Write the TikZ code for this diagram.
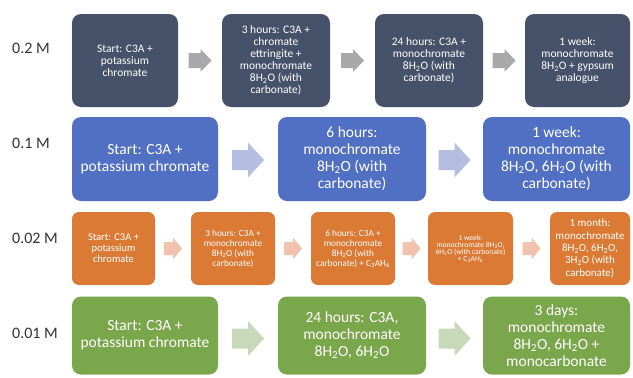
\documentclass[tikz,border=0pt]{standalone}
\usepackage{fontspec}
\setmainfont{Carlito}
\usetikzlibrary{calc}
\definecolor{cdark}{HTML}{46526A}
\definecolor{cblue}{HTML}{5170C4}
\definecolor{corange}{HTML}{DA7A35}
\definecolor{cgreen}{HTML}{7AA64C}
\definecolor{agray}{HTML}{A9A9AB}
\definecolor{ablue}{HTML}{B3BEE0}
\definecolor{aorange}{HTML}{F1C3AE}
\definecolor{agreen}{HTML}{C7D9B9}
\definecolor{labcol}{HTML}{333333}
\newcommand\subs[1]{\textsubscript{#1}}
\newcommand\blockarr[6]{%
  \fill[#6] (#1) ++({-#2/2},{-#4/2}) -- ++({#2-#5},0) -- ++(0,{-(#3-#4)/2})
    -- ++(#5,{#3/2}) -- ++({-#5},{#3/2}) -- ++(0,{-(#3-#4)/2}) -- ++({-(#2-#5)},0) -- cycle;}
\tikzset{
  box/.style={rectangle, rounded corners=9pt, inner sep=1pt, align=center, text=white},
  rowA/.style={box, fill=cdark, minimum height=93pt, font=\fontsize{11.5}{12}\selectfont},
  rowB/.style={box, fill=cblue, minimum height=84pt, font=\fontsize{15.5}{17}\selectfont},
  rowC/.style={box, fill=corange, rounded corners=7pt, minimum height=73pt},
  rowD/.style={box, fill=cgreen, minimum height=78pt, font=\fontsize{15.5}{17}\selectfont},
  lab/.style={anchor=west, inner sep=0pt, text=labcol, font=\fontsize{16}{18}\selectfont}
}
\begin{document}
\begin{tikzpicture}[x=1pt,y=-1pt]
\fill[white] (0,0) rectangle (633,378);
\useasboundingbox (0,0) rectangle (633,378);

% labels
\node[lab] (l1) at (12,48) {0.2 M};
\node[lab] (l2) at (12,143) {0.1 M};
\node[lab] (l3) at (12,238) {0.02 M};
\node[lab] (l4) at (12,333) {0.01 M};

% row 1
\node[rowA, minimum width=106pt] (r1a) at (125,60.5) {Start: C3A +\\potassium\\chromate};
\node[rowA, minimum width=108pt] (r1b) at (276,60.5) {3 hours: C3A +\\chromate\\ettringite +\\monochromate\\8H\subs{2}O (with\\carbonate)};
\node[rowA, minimum width=108pt] (r1c) at (429,60.5) {24 hours: C3A +\\monochromate\\8H\subs{2}O (with\\carbonate)};
\node[rowA, minimum width=105pt] (r1d) at (577.5,60.5) {1 week:\\monochromate\\8H\subs{2}O + gypsum\\analogue};

% row 2
\node[rowB, minimum width=146pt] (r2a) at (145,159) {Start: C3A +\\potassium chromate};
\node[rowB, minimum width=148pt] (r2b) at (352,159) {6 hours:\\monochromate\\8H\subs{2}O (with\\carbonate)};
\node[rowB, minimum width=147pt] (r2c) at (556.5,159) {1 week:\\monochromate\\8H\subs{2}O, 6H\subs{2}O (with\\carbonate)};

% row 3
\node[rowC, minimum width=83pt, font=\fontsize{10.5}{11}\selectfont] (r3a) at (113.5,248.5) {Start: C3A +\\potassium\\chromate};
\node[rowC, minimum width=84pt, font=\fontsize{9.3}{10}\selectfont] (r3b) at (233,248.5) {3 hours: C3A +\\monochromate\\8H\subs{2}O (with\\carbonate)};
\node[rowC, minimum width=84pt, font=\fontsize{9.3}{10}\selectfont] (r3c) at (353,248.5) {6 hours: C3A +\\monochromate\\8H\subs{2}O (with\\carbonate) + C\subs{3}AH\subs{6}};
\node[rowC, minimum width=85pt, font=\fontsize{7.6}{7}\selectfont] (r3d) at (470.5,248.5) {1 week:\\monochromate 8H\subs{2}O,\\6H\subs{2}O (with carbonate)\\+ C\subs{3}AH\subs{6}};
\node[rowC, minimum width=80pt, font=\fontsize{11}{12.3}\selectfont] (r3e) at (590,248.5) {1 month:\\monochromate\\8H\subs{2}O, 6H\subs{2}O,\\3H\subs{2}O (with\\carbonate)};

% row 4
\node[rowD, minimum width=146pt] (r4a) at (145,335.5) {Start: C3A +\\potassium chromate};
\node[rowD, minimum width=148pt] (r4b) at (352,335.5) {24 hours: C3A,\\monochromate\\8H\subs{2}O, 6H\subs{2}O};
\node[rowD, minimum width=147pt] (r4c) at (556.5,335.5) {3 days:\\monochromate\\8H\subs{2}O, 6H\subs{2}O +\\monocarbonate};

% arrow anchor points
\coordinate (a1x) at ($(r1a.east)!0.5!(r1b.west)$);
\coordinate (a1y) at ($(r1b.east)!0.5!(r1c.west)$);
\coordinate (a1z) at ($(r1c.east)!0.5!(r1d.west)$);
\coordinate (a2x) at ($(r2a.east)!0.5!(r2b.west)+(0,1)$);
\coordinate (a2y) at ($(r2b.east)!0.5!(r2c.west)+(0,1)$);
\coordinate (a3w) at ($(r3a.east)!0.5!(r3b.west)$);
\coordinate (a3x) at ($(r3b.east)!0.5!(r3c.west)$);
\coordinate (a3y) at ($(r3c.east)!0.5!(r3d.west)$);
\coordinate (a3z) at ($(r3d.east)!0.5!(r3e.west)$);
\coordinate (a4x) at ($(r4a.east)!0.5!(r4b.west)+(0,3)$);
\coordinate (a4y) at ($(r4b.east)!0.5!(r4c.west)+(0,3)$);

\blockarr{a1x}{23}{23}{15}{11}{agray}
\blockarr{a1y}{23}{23}{15}{11}{agray}
\blockarr{a1z}{23}{23}{15}{11}{agray}
\blockarr{a2x}{32}{35}{20}{16}{ablue}
\blockarr{a2y}{32}{35}{20}{16}{ablue}
\blockarr{a3w}{18}{22}{13}{9}{aorange}
\blockarr{a3x}{18}{22}{13}{9}{aorange}
\blockarr{a3y}{18}{22}{13}{9}{aorange}
\blockarr{a3z}{18}{22}{13}{9}{aorange}
\blockarr{a4x}{32}{35}{20}{16}{agreen}
\blockarr{a4y}{32}{35}{20}{16}{agreen}
\end{tikzpicture}
\end{document}
